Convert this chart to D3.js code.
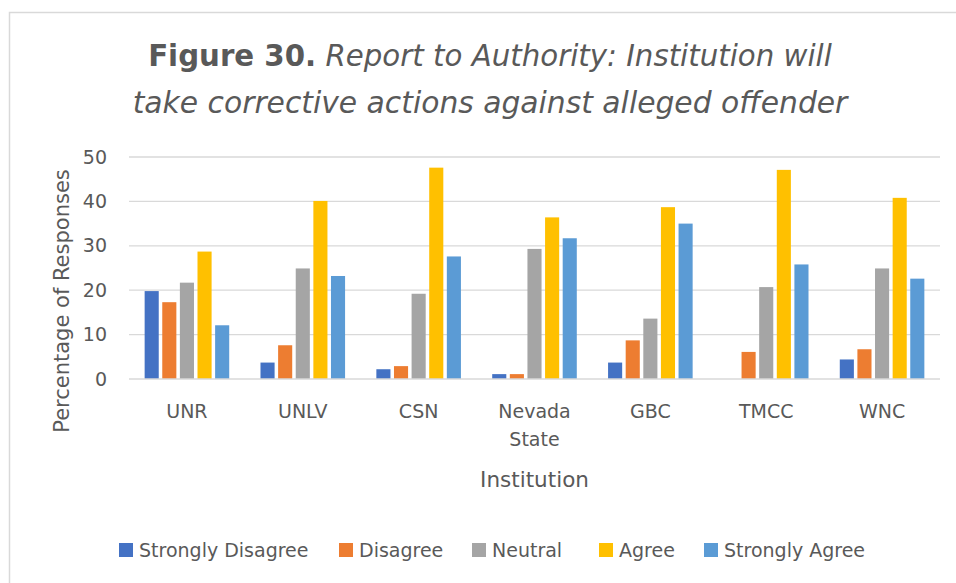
<!DOCTYPE html>
<html>
<head>
<meta charset="utf-8">
<script src="https://cdn.jsdelivr.net/npm/d3@7"></script>
<style>
  body { margin: 0; background: #fff; }
  text { font-family: "DejaVu Sans", sans-serif; fill: #595959; }
</style>
</head>
<body>
<svg id="chart" width="956" height="583"></svg>
<script>
var institutions = ['UNR', 'UNLV', 'CSN', 'Nevada State', 'GBC', 'TMCC', 'WNC'];
var seriesNames = ['Strongly Disagree', 'Disagree', 'Neutral', 'Agree', 'Strongly Agree'];
var stronglyDisagree = [19.8, 3.7, 2.2, 1.1, 3.7, 0, 4.4];
var disagree = [17.3, 7.6, 2.9, 1.1, 8.7, 6.1, 6.7];
var neutral = [21.7, 24.9, 19.2, 29.3, 13.6, 20.7, 24.9];
var agree = [28.7, 40.1, 47.6, 36.4, 38.7, 47.1, 40.8];
var stronglyAgree = [12.1, 23.2, 27.6, 31.7, 35.0, 25.8, 22.6];
var yTicks = [0, 10, 20, 30, 40, 50];
var colors = ['#4472C4', '#ED7D31', '#A5A5A5', '#FFC000', '#5B9BD5'];

(function() {
    var values = [stronglyDisagree, disagree, neutral, agree, stronglyAgree];

    var svg = d3.select('#chart');
    var plotLeft = 129, plotRight = 940, plotTop = 157, plotBottom = 379;

    // chart frame (only left and top edges show)
    svg.append('path')
        .attr('d', 'M9.5,583 V12.5 H956')
        .attr('fill', 'none')
        .attr('stroke', '#d9d9d9')
        .attr('stroke-width', 1.5);

    // title, shrunk/grown to the width of the reference lines
    function fitWidth(sel, target) {
        var w = sel.node().getComputedTextLength();
        var size = parseFloat(sel.style('font-size'));
        sel.style('font-size', (size * target / w) + 'px');
    }
    var title1 = svg.append('text')
        .attr('x', 490)
        .attr('y', 66)
        .attr('text-anchor', 'middle')
        .style('font-size', '25px');
    title1.append('tspan').style('font-weight', 'bold').text('Figure 30.');
    title1.append('tspan').style('font-style', 'italic').text(' Report to Authority: Institution will');
    fitWidth(title1, 684);

    var title2 = svg.append('text')
        .attr('x', 490)
        .attr('y', 113)
        .attr('text-anchor', 'middle')
        .style('font-size', '25px')
        .style('font-style', 'italic')
        .text('take corrective actions against alleged offender');
    fitWidth(title2, 715);

    var y = d3.scaleLinear().domain([0, 50]).range([plotBottom, plotTop]);
    var x0 = d3.scaleBand().domain(institutions).range([plotLeft, plotRight])
        .paddingInner(0.27).paddingOuter(0.135);
    var x1 = d3.scaleBand().domain(seriesNames).range([0, x0.bandwidth()])
        .paddingInner(0.2);

    // gridlines
    svg.append('g')
        .selectAll('line')
        .data(yTicks.filter(function(t) { return t > 0; }))
        .join('line')
        .attr('x1', plotLeft).attr('x2', plotRight)
        .attr('y1', function(d) { return y(d); })
        .attr('y2', function(d) { return y(d); })
        .attr('stroke', '#d9d9d9')
        .attr('stroke-width', 1.3);

    // y axis labels
    var yAxis = svg.append('g')
        .attr('transform', 'translate(107,0)')
        .call(d3.axisLeft(y).tickValues(yTicks).tickSize(0).tickPadding(0));
    yAxis.select('.domain').remove();
    yAxis.selectAll('text')
        .style('font-size', '19px')
        .style('font-family', '"DejaVu Sans", sans-serif')
        .attr('fill', '#595959');

    // bars
    var groups = svg.append('g')
        .selectAll('g')
        .data(institutions)
        .join('g')
        .attr('transform', function(d) { return 'translate(' + x0(d) + ',0)'; });

    groups.selectAll('rect')
        .data(function(d, i) {
            return seriesNames.map(function(s, k) {
                return { series: s, value: values[k][i], color: colors[k] };
            });
        })
        .join('rect')
        .attr('x', function(d) { return x1(d.series); })
        .attr('y', function(d) { return y(d.value); })
        .attr('width', x1.bandwidth())
        .attr('height', function(d) { return y(0) - y(d.value); })
        .attr('fill', function(d) { return d.color; });

    // x axis line
    svg.append('line')
        .attr('x1', plotLeft).attr('x2', plotRight)
        .attr('y1', plotBottom).attr('y2', plotBottom)
        .attr('stroke', '#d9d9d9')
        .attr('stroke-width', 1.5);

    // category labels, two-word names wrap
    svg.append('g')
        .selectAll('text')
        .data(institutions)
        .join('text')
        .attr('y', 418)
        .attr('text-anchor', 'middle')
        .style('font-size', '19px')
        .each(function(d) {
            var t = d3.select(this);
            var cx = x0(d) + x0.bandwidth() / 2;
            d.split(' ').forEach(function(w, i) {
                t.append('tspan')
                    .attr('x', cx)
                    .attr('dy', i === 0 ? 0 : 28)
                    .text(w);
            });
        });

    // axis titles
    svg.append('text')
        .attr('x', (plotLeft + plotRight) / 2)
        .attr('y', 487)
        .attr('text-anchor', 'middle')
        .style('font-size', '21.5px')
        .text('Institution');

    svg.append('text')
        .attr('transform', 'translate(69,301) rotate(-90)')
        .attr('text-anchor', 'middle')
        .style('font-size', '21px')
        .text('Percentage of Responses');

    // legend
    var legendX = [119, 339, 472, 599, 704];
    var legend = svg.append('g')
        .selectAll('g')
        .data(seriesNames)
        .join('g')
        .attr('transform', function(d, i) { return 'translate(' + legendX[i] + ',543)'; });
    legend.append('rect')
        .attr('width', 14).attr('height', 14)
        .attr('fill', function(d, i) { return colors[i]; });
    legend.append('text')
        .attr('x', 20)
        .attr('y', 14)
        .style('font-size', '19px')
        .text(function(d) { return d; });
})();
</script>
</body>
</html>
